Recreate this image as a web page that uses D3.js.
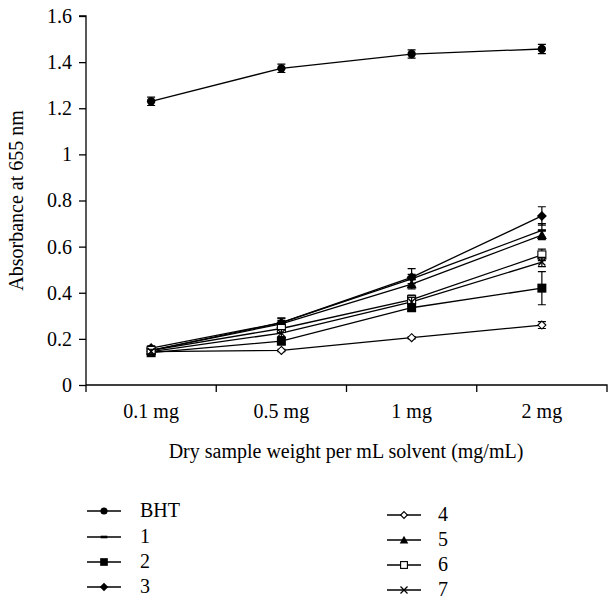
<!DOCTYPE html>
<html>
<head>
<meta charset="utf-8">
<script src="https://cdn.jsdelivr.net/npm/d3@7/dist/d3.min.js"></script>
<style>
  body { margin: 0; background: #fff; }
  text { font-family: "Liberation Serif", "DejaVu Serif", serif; fill: #000; }
</style>
</head>
<body>
<svg id="chart" width="609" height="601"></svg>
<script>
var doses = ['0.1 mg', '0.5 mg', '1 mg', '2 mg'];
var yTicks = [0, 0.2, 0.4, 0.6, 0.8, 1, 1.2, 1.4, 1.6];

var seriesNames = ['BHT', '1', '2', '3', '4', '5', '6', '7'];
var seriesShapes = ['circle', 'dash', 'square', 'diamond', 'openDiamond', 'triangle', 'openSquare', 'cross'];

var valBHT = [1.23, 1.373, 1.435, 1.457];
var val1 = [0.15, 0.27, 0.46, 0.67];
var val2 = [0.14, 0.19, 0.335, 0.42];
var val3 = [0.16, 0.27, 0.467, 0.733];
var val4 = [0.145, 0.15, 0.205, 0.26];
var val5 = [0.15, 0.265, 0.437, 0.65];
var val6 = [0.15, 0.245, 0.37, 0.564];
var val7 = [0.145, 0.225, 0.36, 0.533];

var errBHT = [0.018, 0.018, 0.018, 0.02];
var err1 = [0, 0.02, 0.02, 0.03];
var err2 = [0.01, 0.015, 0.015, 0.072];
var err3 = [0.01, 0.02, 0.038, 0.04];
var err4 = [0.005, 0.005, 0.005, 0.015];
var err5 = [0.01, 0.015, 0.02, 0.02];
var err6 = [0.01, 0.015, 0.02, 0.025];
var err7 = [0.01, 0.015, 0.02, 0.02];

var allVals = [valBHT, val1, val2, val3, val4, val5, val6, val7];
var allErrs = [errBHT, err1, err2, err3, err4, err5, err6, err7];

var series = seriesNames.map(function(n, i) {
  return { name: n, shape: seriesShapes[i], values: allVals[i], errs: allErrs[i] };
});

var svg = d3.select('#chart');
var mLeft = 86, mRight = 607, mTop = 16, mBottom = 385;
var fs = '20px';

var x = d3.scaleBand().domain(doses).range([mLeft, mRight]);
var y = d3.scaleLinear().domain([0, 1.6]).range([mBottom, mTop]);

// axes
var yAxis = svg.append('g')
    .attr('transform', 'translate(' + mLeft + ',0)')
    .call(d3.axisLeft(y).tickValues(yTicks).tickSize(7).tickPadding(7)
      .tickFormat(function(d) { return d === 0 || d === 1 ? d : d3.format('.1f')(d); }));
var xAxis = svg.append('g')
    .attr('transform', 'translate(0,' + mBottom + ')')
    .call(d3.axisBottom(x).tickSize(0).tickPadding(19));
[yAxis, xAxis].forEach(function(a) {
  a.select('.domain').attr('stroke', '#000').attr('stroke-width', 1.3);
  a.selectAll('.tick line').attr('stroke', '#000').attr('stroke-width', 1.3);
  a.selectAll('text').style('font-size', fs).attr('font-family', '"Liberation Serif", serif');
});
yAxis.select('.domain').attr('d', 'M-7,' + mTop + 'H0V' + mBottom);
xAxis.select('.domain').attr('d', 'M' + mLeft + ',0H' + mRight + 'V7');

// x ticks at band edges
var edges = doses.slice(1).map(function(d) { return x(d); });
edges.push(mLeft);
xAxis.selectAll('line.edge')
  .data(edges).enter().append('line')
  .attr('class', 'edge')
  .attr('x1', function(d) { return d; }).attr('x2', function(d) { return d; })
  .attr('y1', 0).attr('y2', 7)
  .attr('stroke', '#000').attr('stroke-width', 1.3);

// axis titles
svg.append('text')
  .attr('x', 346).attr('y', 458)
  .attr('text-anchor', 'middle').style('font-size', fs)
  .text('Dry sample weight per mL solvent (mg/mL)');
svg.append('text')
  .attr('transform', 'translate(23,' + ((mTop + mBottom) / 2) + ') rotate(-90)')
  .attr('text-anchor', 'middle').style('font-size', fs)
  .text('Absorbance at 655 nm');

function cx(i) { return x(doses[i]) + x.bandwidth() / 2; }

function drawMarker(g, shape, s) {
  s = s || 1;
  if (shape === 'circle') {
    g.append('circle').attr('r', 4.2 * s).attr('fill', '#000');
  } else if (shape === 'dash') {
    g.append('rect').attr('x', -4 * s).attr('y', -1.3).attr('width', 8 * s).attr('height', 2.6).attr('fill', '#000');
  } else if (shape === 'square') {
    g.append('rect').attr('x', -4.5 * s).attr('y', -4.5 * s).attr('width', 9 * s).attr('height', 9 * s).attr('fill', '#000');
  } else if (shape === 'diamond') {
    g.append('path').attr('d', 'M0,' + (-5 * s) + 'L' + (5 * s) + ',0L0,' + (5 * s) + 'L' + (-5 * s) + ',0Z').attr('fill', '#000');
  } else if (shape === 'openDiamond') {
    g.append('path').attr('d', 'M0,' + (-4 * s) + 'L' + (4 * s) + ',0L0,' + (4 * s) + 'L' + (-4 * s) + ',0Z')
      .attr('fill', '#fff').attr('stroke', '#000').attr('stroke-width', 1.1);
  } else if (shape === 'triangle') {
    g.append('path').attr('d', 'M0,' + (-5 * s) + 'L' + (5 * s) + ',' + (4 * s) + 'L' + (-5 * s) + ',' + (4 * s) + 'Z').attr('fill', '#000');
  } else if (shape === 'openSquare') {
    g.append('rect').attr('x', -4 * s).attr('y', -4 * s).attr('width', 8 * s).attr('height', 8 * s)
      .attr('fill', '#fff').attr('stroke', '#000').attr('stroke-width', 1.1);
  } else if (shape === 'cross') {
    g.append('path').attr('d', 'M-3.5,-3.5L3.5,3.5M-3.5,3.5L3.5,-3.5').attr('stroke', '#000').attr('stroke-width', 1.3);
  }
}

var line = d3.line()
  .x(function(d, i) { return cx(i); })
  .y(function(d) { return y(d); });

var plot = svg.append('g').attr('class', 'plot');

series.forEach(function(s) {
  plot.append('path').datum(s.values)
    .attr('d', line).attr('fill', 'none').attr('stroke', '#000').attr('stroke-width', 1.3);
});

series.forEach(function(s) {
  var g = plot.append('g');
  s.values.forEach(function(v, i) {
    var e = s.errs[i];
    if (e > 0) {
      g.append('path')
        .attr('d', 'M' + cx(i) + ',' + y(v - e) + 'V' + y(v + e) +
          'M' + (cx(i) - 4) + ',' + y(v - e) + 'h8' +
          'M' + (cx(i) - 4) + ',' + y(v + e) + 'h8')
        .attr('stroke', '#000').attr('stroke-width', 1.2).attr('fill', 'none');
    }
    var m = g.append('g').attr('transform', 'translate(' + cx(i) + ',' + y(v) + ')');
    drawMarker(m, s.shape, 1);
  });
});

// legend
var legendPos = [
  [87, 511], [87, 537], [87, 562], [87, 587],
  [387, 515], [387, 540], [387, 565], [387, 590]
];
series.forEach(function(s, i) {
  var p = legendPos[i];
  var g = svg.append('g').attr('transform', 'translate(' + p[0] + ',' + p[1] + ')');
  g.append('line').attr('x1', 0).attr('x2', 34).attr('y1', 0).attr('y2', 0)
    .attr('stroke', '#000').attr('stroke-width', 1.3);
  var m = g.append('g').attr('transform', 'translate(17,0)');
  drawMarker(m, s.shape, 0.85);
  g.append('text').attr('x', i < 4 ? 53 : 51).attr('y', 6)
    .style('font-size', fs).text(s.name);
});
</script>
</body>
</html>
